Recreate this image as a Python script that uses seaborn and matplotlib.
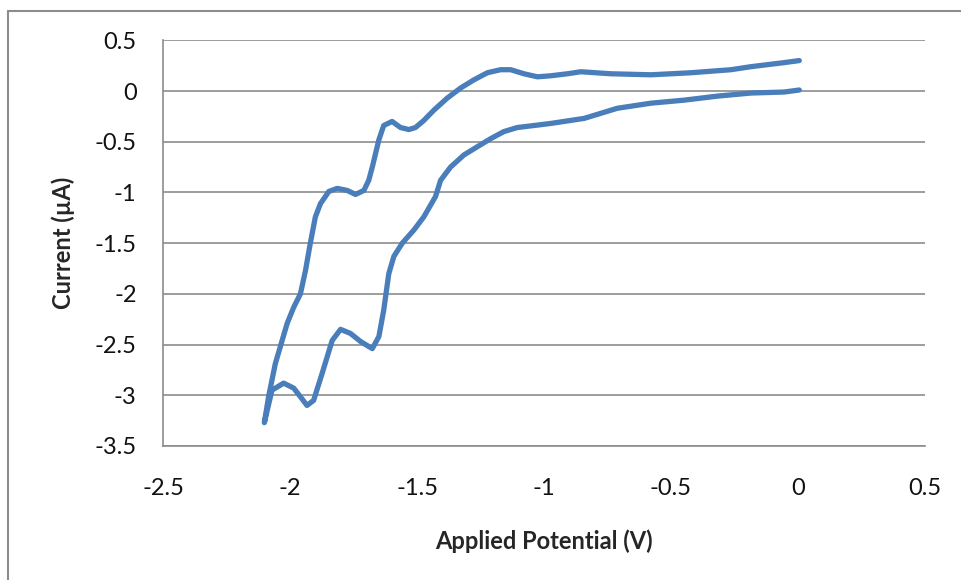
import numpy as np
import pandas as pd
import matplotlib
matplotlib.use('Agg')
import matplotlib.pyplot as plt
from matplotlib.lines import Line2D
import seaborn as sns

# cathodic sweep 0 V -> -2.1 V (lower branch), then return sweep (upper branch)
potential_fwd = [0.005, -0.054, -0.185, -0.316, -0.448, -0.579, -0.711, -0.842, -0.974,
                 -1.039, -1.105, -1.158, -1.210, -1.263, -1.315, -1.368, -1.407, -1.427,
                 -1.473, -1.512, -1.558, -1.591, -1.611, -1.631, -1.650, -1.676, -1.722,
                 -1.762, -1.801, -1.834, -1.873, -1.907, -1.933, -1.985, -2.025, -2.071, -2.101]
current_fwd = [0.01, -0.01, -0.02, -0.05, -0.09, -0.12, -0.17, -0.27, -0.32,
               -0.34, -0.36, -0.40, -0.47, -0.55, -0.63, -0.75, -0.88, -1.04,
               -1.24, -1.37, -1.50, -1.63, -1.80, -2.16, -2.42, -2.54, -2.47,
               -2.39, -2.35, -2.46, -2.78, -3.05, -3.10, -2.93, -2.88, -2.95, -3.27]

potential_rev = [-2.084, -2.058, -2.031, -2.011, -1.985, -1.959, -1.939, -1.920, -1.900,
                 -1.880, -1.847, -1.814, -1.775, -1.742, -1.709, -1.690, -1.676, -1.650,
                 -1.631, -1.598, -1.565, -1.532, -1.506, -1.473, -1.434, -1.381, -1.328,
                 -1.276, -1.223, -1.171, -1.131, -1.079, -1.026, -0.974, -0.908, -0.855,
                 -0.737, -0.579, -0.422, -0.264, -0.185, -0.120, -0.054, 0.005]
current_rev = [-3.01, -2.69, -2.46, -2.29, -2.13, -2.00, -1.77, -1.50, -1.24,
               -1.11, -0.99, -0.96, -0.98, -1.02, -0.98, -0.88, -0.75, -0.48,
               -0.34, -0.30, -0.36, -0.38, -0.36, -0.29, -0.19, -0.07, 0.03,
               0.11, 0.18, 0.21, 0.21, 0.17, 0.14, 0.15, 0.17, 0.19,
               0.17, 0.16, 0.18, 0.21, 0.24, 0.26, 0.28, 0.30]

x_ticks = [-2.5, -2, -1.5, -1, -0.5, 0, 0.5]
y_ticks = [0.5, 0, -0.5, -1, -1.5, -2, -2.5, -3, -3.5]

df = pd.DataFrame({
    'Potential': potential_fwd + potential_rev,
    'Current': current_fwd + current_rev,
})

sns.set_style('white')
plt.rcParams['font.family'] = ['Lato', 'DejaVu Sans']

fig = plt.figure(figsize=(9.62, 5.8), dpi=100)
ax = fig.add_axes([163 / 962, 1 - 446 / 580, (925 - 163) / 962, (446 - 40.3) / 580])

sns.lineplot(data=df, x='Potential', y='Current', sort=False, estimator=None,
             color='#4A7EBB', linewidth=3.8, ax=ax, solid_capstyle='round',
             solid_joinstyle='round')

ax.set_xlim(-2.5, 0.5)
ax.set_ylim(-3.5, 0.5)
ax.set_xticks(x_ticks)
ax.set_yticks(y_ticks)
ax.set_xticklabels([f'{t:g}' for t in x_ticks])
ax.set_yticklabels([f'{t:g}' for t in y_ticks])

ax.yaxis.grid(True, color='#8C8C8C', linewidth=1.2)
ax.xaxis.grid(False)
ax.set_axisbelow(True)
for s in ['top', 'right']:
    ax.spines[s].set_visible(False)
for s in ['left', 'bottom']:
    ax.spines[s].set_color('#8C8C8C')
    ax.spines[s].set_linewidth(1.2)

ax.tick_params(axis='both', direction='out', length=6, width=1.2, color='#8C8C8C',
               labelsize=17, labelcolor='#111111')
ax.tick_params(axis='y', pad=13)
ax.tick_params(axis='x', pad=17)

ax.set_xlabel('Applied Potential (V)', fontsize=17, fontweight='bold', labelpad=22)
ax.set_ylabel('Current (µA)', fontsize=17, fontweight='bold', labelpad=14)

# outer chart frame (partially cropped in the reference)
fig.add_artist(Line2D([8 / 962, 8 / 962], [0, 1 - 11 / 580], transform=fig.transFigure,
                      color='#8C8C8C', linewidth=1.5))
fig.add_artist(Line2D([8 / 962, 1], [1 - 11 / 580, 1 - 11 / 580], transform=fig.transFigure,
                      color='#8C8C8C', linewidth=1.5))

fig.savefig('out.png', dpi=100)
